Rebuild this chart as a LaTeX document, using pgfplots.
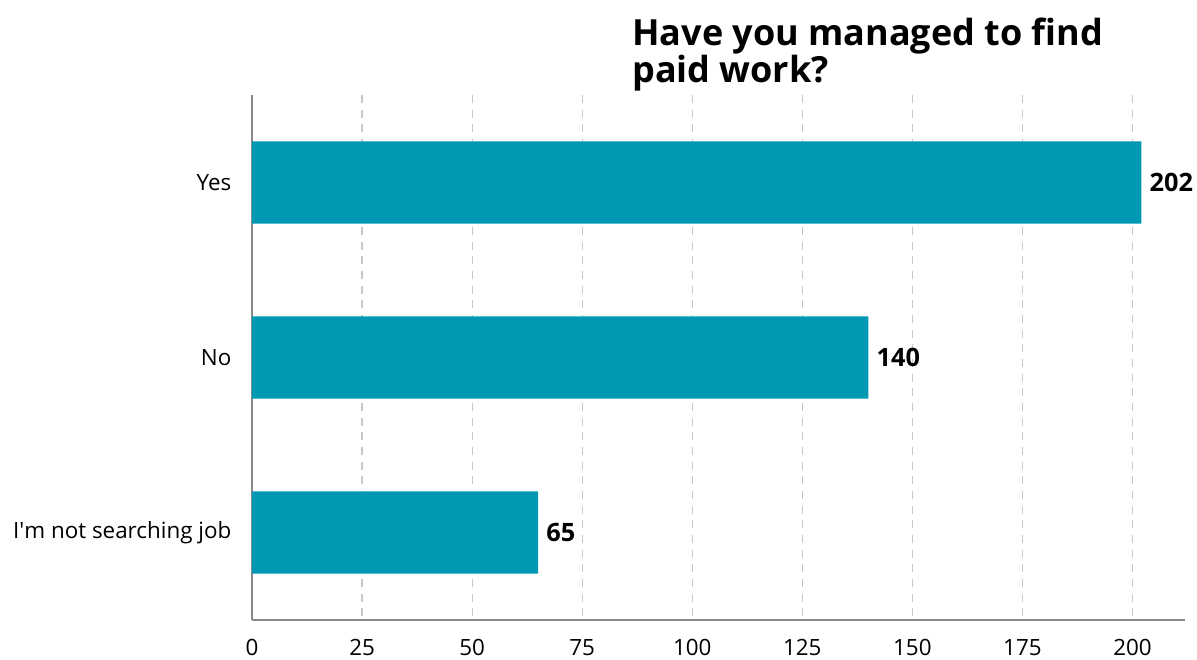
\documentclass[border=0pt]{standalone}
\usepackage{pgfplots}
\pgfplotsset{compat=1.18}
\usepackage{fontspec}
\setmainfont{Open Sans}
\definecolor{barc}{HTML}{0098B3}
\definecolor{gridc}{HTML}{C8C8C8}
\definecolor{axc}{HTML}{8A8A8A}
\begin{document}
\begin{tikzpicture}
\path[use as bounding box] (0pt,0pt) rectangle (897.75pt,495pt);
\begin{axis}[
  at={(189pt,30pt)}, anchor=south west,
  scale only axis,
  width=700pt, height=393.75pt,
  xbar, bar width=0.47, bar shift=0pt,
  xmin=0, xmax=212,
  ymin=-0.5, ymax=2.5,
  y dir=reverse,
  ytick={0,1,2},
  yticklabels={Yes,No,I\textquotesingle m not searching job},
  xtick={0,25,...,200},
  axis x line*=bottom,
  axis y line*=left,
  axis line style={axc, line width=1.2pt, -},
  major tick length=0pt,
  xmajorgrids,
  grid style={gridc, line width=0.9pt, dash pattern=on 6pt off 5pt},
  tick label style={font=\fontsize{16.8}{19}\selectfont},
  /pgf/number format/assume math mode=true,
  xticklabel style={yshift=-11pt},
  yticklabel style={xshift=-12pt},
  nodes near coords,
  nodes near coords style={font=\fontsize{19}{22}\selectfont\bfseries, anchor=west, inner sep=0pt, xshift=6pt},
]
\addplot[fill=barc, draw=none] coordinates {(202,0) (140,1) (65,2)};
\end{axis}
\node[anchor=north west, align=left, inner sep=0pt, font=\fontsize{27}{28}\selectfont\bfseries] at (474pt,482pt) {Have you managed to find\\paid work?};
\end{tikzpicture}
\end{document}
